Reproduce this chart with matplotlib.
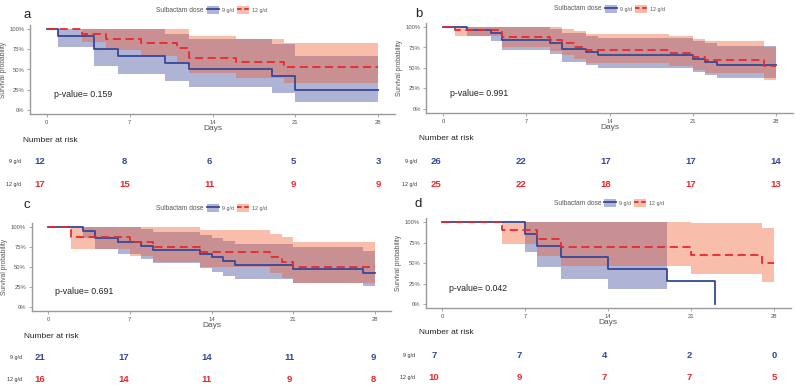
import matplotlib.pyplot as plt
from matplotlib.lines import Line2D
from matplotlib.patches import Patch

plt.rcParams['font.family'] = ['Liberation Sans', 'DejaVu Sans']

#%% data
groups = ['9 g/d', '12 g/d']
risk_times = [0, 7, 14, 21, 28]
tick_days = [0, 7, 14, 21, 28]

# panel a
a_t9 = [0, 1, 4, 6, 10, 12, 19, 21, 28]
a_s9 = [1, .917, .75, .667, .583, .5, .417, .25, .25]
a_lo9 = [1, .773, .541, .447, .361, .284, .213, .094, .094]
a_hi9 = [1, 1, 1, .995, .941, .880, .814, .666, .666]
a_t12 = [0, 3, 5, 8, 11, 12, 16, 20, 28]
a_s12 = [1, .941, .882, .824, .765, .647, .588, .529, .529]
a_lo12 = [1, .836, .742, .661, .588, .456, .395, .338, .338]
a_hi12 = [1, 1, 1, 1, .996, .919, .875, .828, .828]
a_risk9 = [12, 8, 6, 5, 3]
a_risk12 = [17, 15, 11, 9, 9]
a_p = 0.159

# panel b
b_t9 = [0, 2, 4, 5, 9, 10, 12, 13, 21, 22, 23, 28]
b_s9 = [1, .962, .923, .846, .808, .731, .692, .654, .615, .577, .538, .538]
b_lo9 = [1, .891, .826, .718, .670, .579, .536, .494, .454, .415, .377, .377]
b_hi9 = [1, 1, 1, .997, .975, .923, .894, .865, .833, .802, .768, .768]
b_t12 = [0, 1, 5, 9, 10, 11, 12, 19, 21, 22, 27, 28]
b_s12 = [1, .96, .88, .84, .80, .76, .72, .68, .64, .60, .52, .52]
b_lo12 = [1, .886, .761, .708, .658, .610, .564, .520, .477, .436, .357, .357]
b_hi12 = [1, 1, 1, .997, .973, .947, .919, .890, .859, .826, .758, .758]
b_risk9 = [26, 22, 17, 17, 14]
b_risk12 = [25, 22, 18, 17, 13]
b_p = 0.991

# panel c
c_t9 = [0, 3, 4, 6, 8, 9, 13, 14, 15, 16, 21, 27, 28]
c_s9 = [1, .952, .857, .810, .762, .714, .667, .619, .571, .524, .476, .429, .429]
c_lo9 = [1, .865, .720, .658, .600, .545, .493, .443, .394, .348, .304, .262, .262]
c_hi9 = [1, 1, 1, .996, .968, .936, .902, .866, .827, .788, .746, .703, .703]
c_t12 = [0, 2, 7, 9, 13, 19, 20, 21, 28]
c_s12 = [1, .875, .8125, .75, .6875, .625, .5625, .5, .5]
c_lo12 = [1, .727, .642, .565, .494, .428, .365, .306, .306]
c_hi12 = [1, 1, 1, .995, .957, .913, .867, .816, .816]
c_risk9 = [21, 17, 14, 11, 9]
c_risk12 = [16, 14, 11, 9, 8]
c_p = 0.691

# panel d (9 g/d band stops at day 19)
d_t9 = [0, 7, 8, 10, 14, 19, 23]
d_s9 = [1, .857, .714, .571, .429, .286, 0]
d_bt9 = [0, 7, 8, 10, 14, 19]
d_lo9 = [1, .633, .447, .301, .182, .182]
d_hi9 = [1, 1, 1, 1, 1, 1]
d_t12 = [0, 5, 8, 10, 21, 27, 28]
d_s12 = [1, .9, .8, .7, .6, .5, .5]
d_lo12 = [1, .732, .587, .467, .362, .269, .269]
d_hi12 = [1, 1, 1, 1, .995, .93, .93]
d_risk9 = [7, 7, 4, 2, 0]
d_risk12 = [10, 9, 7, 7, 5]
d_p = 0.042

#%% style
BLUE = '#34489a'
BLUE_FILL = '#3a4494'
RED = '#e8282d'
RED_FILL = '#ee5a2f'
GREY = '#9a9a9a'
TXT = '#555555'
W, H = 796, 392

fig = plt.figure(figsize=(W / 100, H / 100), dpi=100)


def px_axes(l, t, r, b):
    return fig.add_axes([l / W, 1 - b / H, (r - l) / W, (b - t) / H])


def km_panel(letter, box, tbox, nar_xy, leg_xy, letter_xy,
             c9, c12, risk9, risk12, pval):
    ax = px_axes(*box)
    t9, s9, bt9, lo9, hi9 = c9
    t12, s12, bt12, lo12, hi12 = c12
    ax.fill_between(bt9, lo9, hi9, step='post', color=BLUE_FILL, alpha=0.4, lw=0)
    ax.step(t9, s9, where='post', color=BLUE, lw=1.3)
    ax.fill_between(bt12, lo12, hi12, step='post', color=RED_FILL, alpha=0.4, lw=0)
    ax.step(t12, s12, where='post', color=RED, lw=1.3, dashes=(4.5, 2.5))
    ax.set_xlim(-1.4, 29.4)
    ax.set_ylim(-0.05, 1.05)
    ax.set_xticks(tick_days)
    ax.set_yticks([0, .25, .5, .75, 1])
    ax.set_yticklabels(['0%', '25%', '50%', '75%', '100%'])
    for s in ['top', 'right']:
        ax.spines[s].set_visible(False)
    for s in ['left', 'bottom']:
        ax.spines[s].set_color(GREY)
        ax.spines[s].set_linewidth(1.0)
    ax.tick_params(labelsize=4.2, colors=GREY, labelcolor=TXT, length=2, width=0.6, pad=2)
    ax.set_xlabel('Days', fontsize=6, color=TXT, labelpad=0)
    ax.set_ylabel('Survival probability', fontsize=4.8, color=TXT, labelpad=2)
    ax.text(0.6, 0.19, 'p-value= %.3f' % pval, fontsize=6.3, color='#222222',
            ha='left', va='center')

    # legend
    fig.text(leg_xy[0] / W, 1 - leg_xy[1] / H, 'Sulbactam dose', fontsize=4.8,
             color=TXT, ha='right', va='center')
    hands = [(Patch(facecolor=BLUE_FILL, alpha=0.4, lw=0), Line2D([], [], color=BLUE, lw=1.3)),
             (Patch(facecolor=RED_FILL, alpha=0.4, lw=0),
              Line2D([], [], color=RED, lw=1.3, dashes=(2.5, 1.5)))]
    fig.legend(hands, groups, loc='center left', frameon=False, ncol=2,
               bbox_to_anchor=((leg_xy[0] + 3) / W, 1 - leg_xy[1] / H),
               fontsize=3.9, handlelength=2.2, handleheight=2.0,
               handletextpad=0.5, columnspacing=0.7, borderpad=0, borderaxespad=0,
               labelcolor=TXT)

    fig.text(letter_xy[0] / W, 1 - letter_xy[1] / H, letter, fontsize=9.5,
             color='#222222', ha='left', va='baseline')

    # risk table
    tab = px_axes(*tbox)
    tab.set_xlim(-1.4, 29.4)
    tab.set_ylim(1.5, -0.5)
    tab.axis('off')
    for row, (vals, col) in enumerate([(risk9, BLUE), (risk12, RED)]):
        for x, v in zip(risk_times, vals):
            tab.text(x, row, str(v), color=col, fontsize=6.8, fontweight='bold',
                     ha='center', va='center')
        tab.text(-0.005, row, groups[row], transform=tab.get_yaxis_transform(),
                 fontsize=3.9, color='#333333', ha='right', va='center')
    fig.text(nar_xy[0] / W, 1 - nar_xy[1] / H, 'Number at risk', fontsize=6.0,
             color='#222222', ha='left', va='center')
    return ax


km_panel('a', (30, 25, 395, 114), (23.1, 150.5, 394.9, 195.5), (23, 140), (204, 10), (23, 18),
         (a_t9, a_s9, a_t9, a_lo9, a_hi9), (a_t12, a_s12, a_t12, a_lo12, a_hi12),
         a_risk9, a_risk12, a_p)
km_panel('b', (426.4, 22.9, 792.6, 113.1), (419, 149.5, 793, 195.5), (419, 139), (602, 9), (415, 17),
         (b_t9, b_s9, b_t9, b_lo9, b_hi9), (b_t12, b_s12, b_t12, b_lo12, b_hi12),
         b_risk9, b_risk12, b_p)
km_panel('c', (31.6, 222.7, 391.4, 311.3), (23.4, 347, 389.6, 391), (24, 337), (204, 208), (24, 208),
         (c_t9, c_s9, c_t9, c_lo9, c_hi9), (c_t12, c_s12, c_t12, c_lo12, c_hi12),
         c_risk9, c_risk12, c_p)
km_panel('d', (425.7, 218.2, 790.6, 308.1), (417, 345, 791, 389), (419, 333), (601, 203), (415, 207),
         (d_t9, d_s9, d_bt9, d_lo9, d_hi9), (d_t12, d_s12, d_t12, d_lo12, d_hi12),
         d_risk9, d_risk12, d_p)

fig.savefig('out.png', dpi=100)
